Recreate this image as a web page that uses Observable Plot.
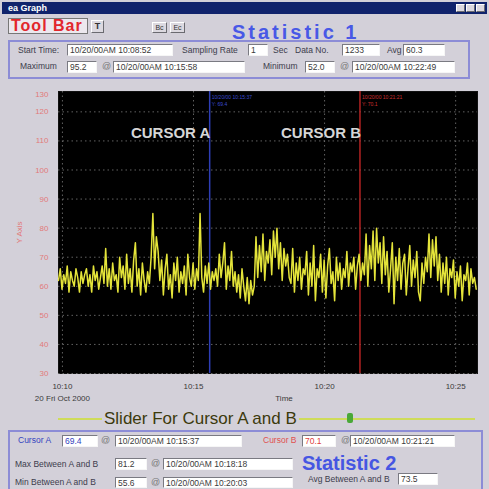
<!DOCTYPE html>
<html><head><meta charset="utf-8">
<script src="https://cdn.jsdelivr.net/npm/d3@7"></script>
<script src="https://cdn.jsdelivr.net/npm/@observablehq/plot@0.6"></script>
<style>
html,body{margin:0;padding:0;}
body{width:489px;height:489px;overflow:hidden;background:#d3d0d9;font-family:"Liberation Sans",Arial,sans-serif;position:relative;}
.a{position:absolute;white-space:nowrap;}
.lbl{position:absolute;font-size:8.5px;color:#3c3c4c;white-space:nowrap;line-height:11px;}
.inp{position:absolute;height:12px;background:#fff;border:1px solid;border-color:#7a7a82 #f6f6f6 #f6f6f6 #7a7a82;font-size:8.5px;line-height:10px;color:#3a3a3a;padding-left:2px;box-sizing:border-box;white-space:nowrap;overflow:hidden;}
.at{position:absolute;font-size:9px;color:#777;line-height:11px;}
.panel{position:absolute;border:2px solid #8c8cd6;box-sizing:border-box;}
.btn{position:absolute;background:#dcd9e0;border:1px solid;border-color:#fff #6a6a70 #6a6a70 #fff;box-sizing:border-box;font-size:7px;line-height:9px;text-align:center;color:#333;}
#chart{position:absolute;left:0;top:82px;}
</style></head>
<body>
<!-- title bar -->
<div class="a" style="left:2px;top:2px;width:485px;height:12px;background:#10236c;"></div>
<div class="a" style="left:8px;top:2px;font-size:9px;line-height:12px;color:#fff;font-weight:bold;">ea Graph</div>
<div class="btn" style="left:456px;top:4px;width:9px;height:8px;"></div>
<div class="btn" style="left:466px;top:4px;width:9px;height:8px;"></div>
<div class="btn" style="left:476px;top:4px;width:9px;height:8px;"></div>

<!-- toolbar -->
<div class="a" style="left:8px;top:18px;width:80px;height:16px;background:#ece8ee;border:1px solid #777;box-sizing:border-box;"></div>
<div class="a" style="left:11px;top:17px;font-size:16px;line-height:17px;font-weight:bold;color:#e2262c;letter-spacing:1px;">Tool Bar</div>
<div class="btn" style="left:91px;top:20px;width:13px;height:13px;font-size:9px;line-height:11px;font-weight:bold;">T</div>
<div class="btn" style="left:152px;top:22px;width:15px;height:11px;">Bc</div>
<div class="btn" style="left:170px;top:22px;width:15px;height:11px;">Ec</div>

<!-- statistic 1 panel -->
<div class="panel" style="left:8px;top:40px;width:462px;height:39px;"></div>
<div class="a" style="left:232px;top:24px;font-size:20px;line-height:17px;font-weight:bold;color:#4858e6;letter-spacing:3px;">Statistic 1</div>
<div class="lbl" style="left:18px;top:45px;">Start Time:</div>
<div class="inp" style="left:67px;top:44px;width:106px;">10/20/00AM 10:08:52</div>
<div class="lbl" style="left:182px;top:45px;">Sampling Rate</div>
<div class="inp" style="left:248px;top:44px;width:20px;">1</div>
<div class="lbl" style="left:273px;top:45px;">Sec</div>
<div class="lbl" style="left:295px;top:45px;">Data No.</div>
<div class="inp" style="left:342px;top:44px;width:38px;">1233</div>
<div class="lbl" style="left:387px;top:45px;">Avg</div>
<div class="inp" style="left:403px;top:44px;width:42px;">60.3</div>
<div class="lbl" style="left:20px;top:61px;">Maximum</div>
<div class="inp" style="left:67px;top:61px;width:30px;">95.2</div>
<div class="at" style="left:102px;top:61px;">@</div>
<div class="inp" style="left:113px;top:61px;width:132px;">10/20/00AM 10:15:58</div>
<div class="lbl" style="left:263px;top:61px;">Minimum</div>
<div class="inp" style="left:305px;top:61px;width:30px;">52.0</div>
<div class="at" style="left:340px;top:61px;">@</div>
<div class="inp" style="left:352px;top:61px;width:103px;">10/20/00AM 10:22:49</div>

<div id="chart"></div>

<!-- slider -->
<div class="a" style="left:58px;top:418px;width:417px;height:2px;background:#cfdc5a;"></div>
<div class="a" style="left:102px;top:409px;font-size:17px;line-height:19px;color:#3c3a0c;background:#d3d0d9;padding:0 2px;">Slider For Cursor A and B</div>
<div class="a" style="left:347px;top:413px;width:6px;height:10px;background:#4aa838;border-radius:2px;"></div>

<!-- statistic 2 panel -->
<div class="panel" style="left:8px;top:430px;width:475px;height:70px;"></div>
<div class="lbl" style="left:18px;top:435px;color:#3444c0;">Cursor A</div>
<div class="inp" style="left:62px;top:435px;width:36px;color:#3444c0;">69.4</div>
<div class="at" style="left:101px;top:435px;">@</div>
<div class="inp" style="left:115px;top:435px;width:127px;">10/20/00AM 10:15:37</div>
<div class="lbl" style="left:263px;top:435px;color:#e05050;">Cursor B</div>
<div class="inp" style="left:302px;top:435px;width:34px;color:#e04040;">70.1</div>
<div class="at" style="left:341px;top:435px;">@</div>
<div class="inp" style="left:350px;top:435px;width:105px;">10/20/00AM 10:21:21</div>
<div class="lbl" style="left:15px;top:459px;">Max Between A and B</div>
<div class="inp" style="left:115px;top:458px;width:32px;">81.2</div>
<div class="at" style="left:151px;top:458px;">@</div>
<div class="inp" style="left:163px;top:458px;width:130px;">10/20/00AM 10:18:18</div>
<div class="a" style="left:302px;top:455px;font-size:20px;line-height:17px;font-weight:bold;color:#4656e2;">Statistic 2</div>
<div class="lbl" style="left:308px;top:474px;">Avg Between A and B</div>
<div class="inp" style="left:398px;top:473px;width:40px;">73.5</div>
<div class="lbl" style="left:15px;top:477px;">Min Between A and B</div>
<div class="inp" style="left:115px;top:477px;width:32px;height:11px;">55.6</div>
<div class="at" style="left:151px;top:477px;">@</div>
<div class="inp" style="left:163px;top:477px;width:130px;height:11px;">10/20/00AM 10:20:03</div>

<script>
// ---- data ----
const yTicks = [30, 40, 50, 60, 70, 80, 90, 100, 110, 120];
const yTopLabel = ["130"];
const xTicks = [
  new Date(2000, 9, 20, 10, 10, 0),
  new Date(2000, 9, 20, 10, 15, 0),
  new Date(2000, 9, 20, 10, 20, 0),
  new Date(2000, 9, 20, 10, 25, 0)
];
const dateLabel = "20 Fri Oct 2000";
const xDomain = [new Date(2000, 9, 20, 10, 9, 51), new Date(2000, 9, 20, 10, 25, 50)];
const signalStart = new Date(2000, 9, 20, 10, 9, 51);
const stepSeconds = 4;
const signal = [
  62,66,59,64,61,67,58,65,62,60,66,63,58,65,61,64,
  66,60,64,58,67,62,65,59,63,67,61,
  73,
  60,66,59,68,62,64,
  58,70,63,67,59,71,61,66,58,69,75,
  60,66,57,68,62,58,65,61,
  70,85,66,77,72,
  62,69,57,66,71,59,64,56,68,62,70,58,65,61,67,57,71,63,
  60,68,59,66,62,
  85,
  63,58,67,61,68,59,65,62,66,
  60,71,63,68,75,59,67,62,72,60,65,
  58,64,56,66,60,55,63,54,62,57,60,77,
  63,74,65,78,62,72,68,76,64,79,70,80,66,75,62,73,67,71,63,
  61,73,58,68,62,70,59,66,
  64,72,57,68,60,74,55,66,63,71,58,69,56,67,73,61,65,55,70,62,68,59,66,
  63,72,60,68,65,70,59,67,71,62,68,
  64,78,60,74,66,79,62,80,68,75,61,77,64,72,58,
  66,75,54,70,62,73,59,68,71,57,66,74,60,69,63,72,58,55,68,61,70,
  65,78,63,76,67,77,62,71,
  58,68,61,70,57,66,63,69,56,65,60,67,55,64,62,68,57,66,61,63,59
];
const cursorNames = ["CURSOR A", "CURSOR B"];
const cursorTimes = [new Date(2000, 9, 20, 10, 15, 37), new Date(2000, 9, 20, 10, 21, 21)];
const cursorValues = [69.4, 70.1];
const cursorColors = ["#2e3eb6", "#b22222"];
const cursorTextColors = ["#3a4ad0", "#d03030"];

// ---- tables ----
const series = signal.map((v, i) => ({t: new Date(+signalStart + i * stepSeconds * 1000), v}));
const cursors = cursorNames.map((name, i) => ({
  name, time: cursorTimes[i], value: cursorValues[i], color: cursorColors[i], tcolor: cursorTextColors[i],
  info1: d3.timeFormat("%m/%d/%y %H:%M:%S")(cursorTimes[i]),
  info2: "Y: " + cursorValues[i].toFixed(1)
}));
const fmt = d3.timeFormat("%H:%M");

const chart = Plot.plot({
  width: 489,
  height: 323,
  marginLeft: 58,
  marginRight: 12,
  marginTop: 9,
  marginBottom: 32,
  style: {background: "transparent", fontFamily: "Liberation Sans, Arial, sans-serif", fontSize: "8px", overflow: "visible"},
  x: {type: "time", domain: xDomain},
  y: {domain: [30, 127]},
  color: {type: "identity"},
  marks: [
    Plot.frame({fill: "#000", stroke: "#111"}),
    Plot.gridY(yTicks, {stroke: "#8a8a8a", strokeOpacity: 0.7, strokeDasharray: "1.5,3"}),
    Plot.gridX(xTicks, {stroke: "#8a8a8a", strokeOpacity: 0.7, strokeDasharray: "1.5,3"}),
    Plot.ruleX(cursors, {x: "time", stroke: "color", strokeWidth: 1.5}),
    Plot.line(series, {x: "t", y: "v", stroke: "#e4e43a", strokeWidth: 1.5}),
    Plot.text(cursors, {x: "time", text: "name", frameAnchor: "top", dy: 36, dx: -39, fill: "#d6d6d6", fontSize: 15, fontWeight: "bold", letterSpacing: 1.5}),
    Plot.text(cursors, {x: "time", text: "info1", frameAnchor: "top", textAnchor: "start", dx: 2, dy: 4, fill: "tcolor", fontSize: 5}),
    Plot.text(cursors, {x: "time", text: "info2", frameAnchor: "top", textAnchor: "start", dx: 2, dy: 11, fill: "tcolor", fontSize: 5}),
    Plot.axisY(yTicks, {tickSize: 0, tickPadding: 10, color: "#e27a7a", fontSize: 8, label: "Y Axis", labelAnchor: "center", labelArrow: "none", labelOffset: 42}),
    Plot.text(yTopLabel, {frameAnchor: "top-left", textAnchor: "end", dx: -10, dy: 0, fill: "#e27a7a", fontSize: 8}),
    Plot.axisX(xTicks, {tickSize: 0, tickPadding: 6, color: "#3a3a3a", fontSize: 8, lineHeight: 1.6,
      tickFormat: d => fmt(d) + (+d === +xTicks[0] ? "\n" + dateLabel : ""), label: null}),
    Plot.text(["Time"], {frameAnchor: "bottom", dx: 16, dy: 27, fill: "#3a3a3a", fontSize: 8})
  ]
});
document.getElementById("chart").appendChild(chart);
</script>
</body></html>
